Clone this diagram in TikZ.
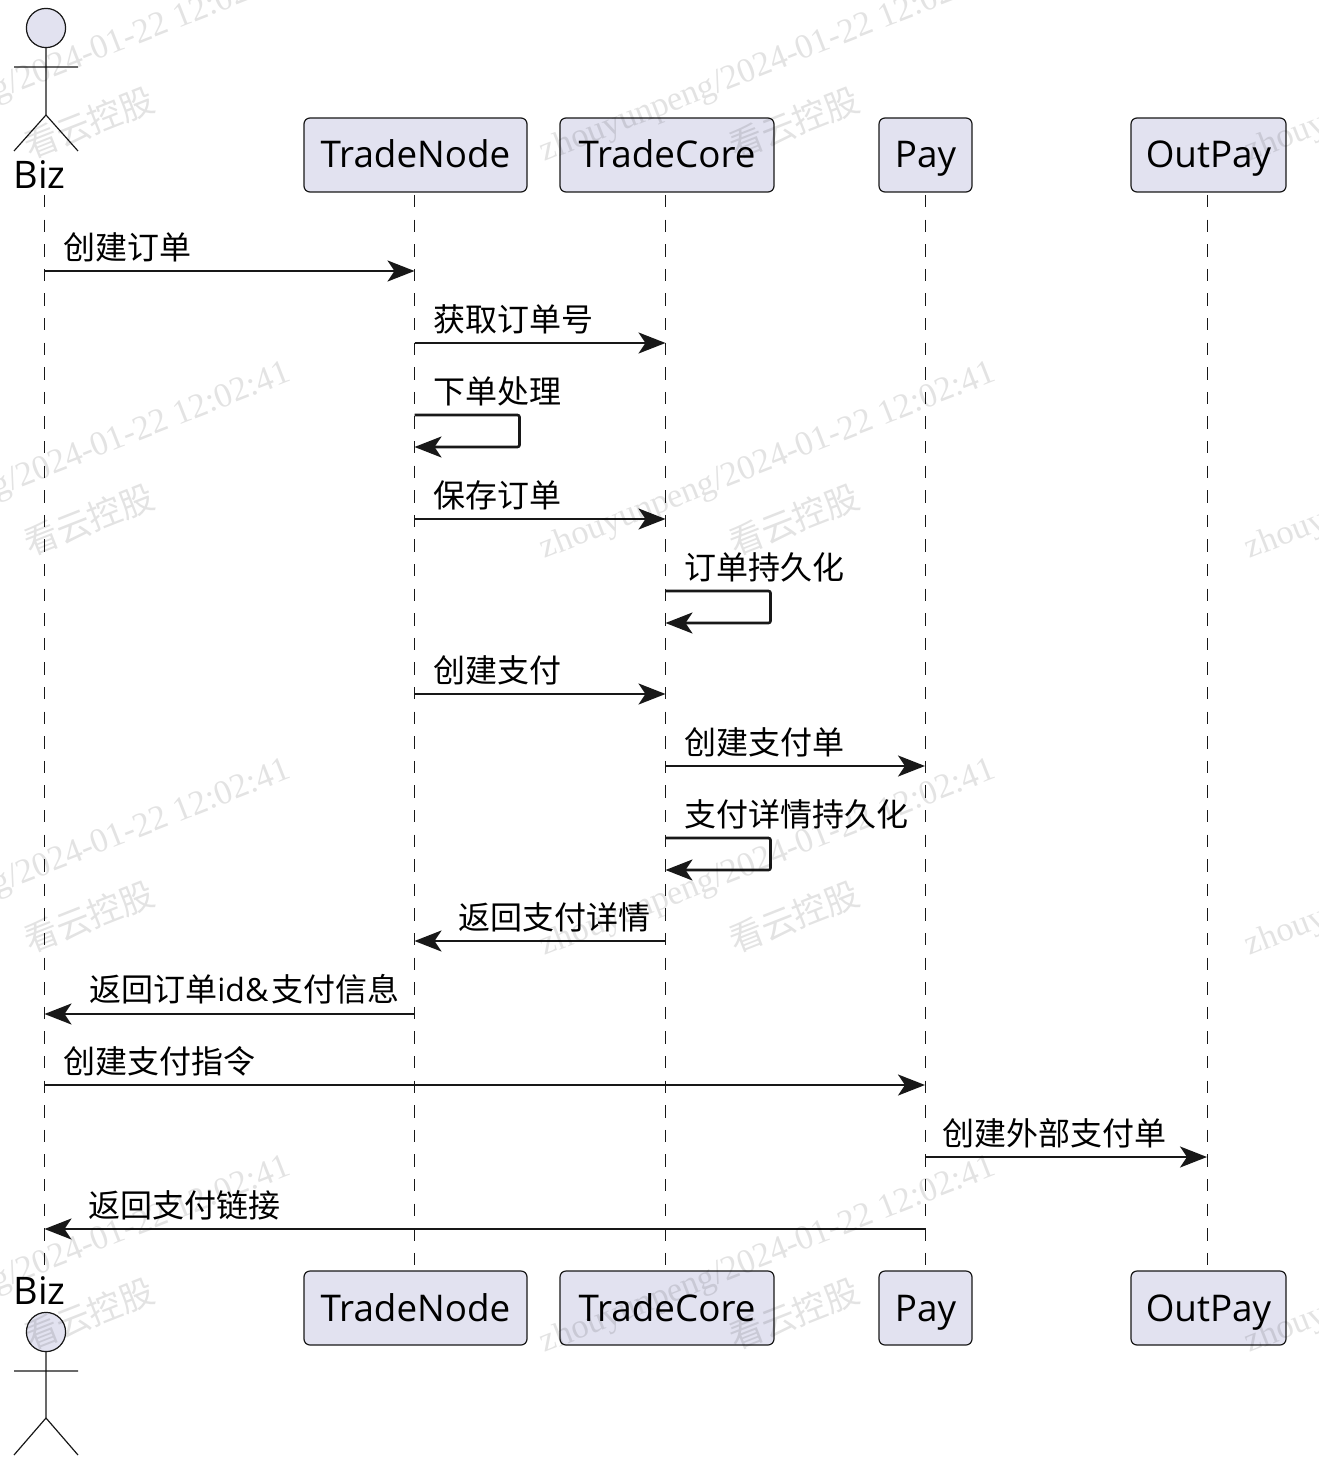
\documentclass[tikz,border=0pt]{standalone}
\usepackage{fontspec}
\setmainfont{Open Sans}
\newfontfamily\cjkfont{Noto Sans CJK SC}
\newfontfamily\markfont{Liberation Serif}
\usetikzlibrary{arrows.meta}

\definecolor{boxfill}{HTML}{E2E2F0}
\definecolor{inkline}{HTML}{181818}

\tikzset{
  part/.style={draw=inkline, line width=0.6pt, fill=boxfill, rounded corners=3pt, minimum height=37pt, inner sep=0pt, text height=17pt, text depth=4pt, font=\fontsize{18.4}{20}\selectfont},
  actorhead/.style={draw=inkline, line width=0.6pt, fill=boxfill, shape=circle, minimum size=19.6pt, inner sep=0pt},
  limb/.style={draw=inkline, line width=0.6pt},
  bizname/.style={anchor=base west, inner sep=0pt, font=\fontsize{19}{20}\selectfont},
  lifeline/.style={draw=inkline, line width=0.5pt, dash pattern=on 6.2pt off 6.1pt},
  msg/.style={draw=inkline, line width=1.3pt, -{Stealth[length=13.5pt,width=10.5pt,inset=3.5pt]}},
  msgtext/.style={anchor=west, inner sep=0pt, font=\cjkfont\fontsize{16}{18}\selectfont},
  wmark/.style={opacity=0.11, inner sep=0pt, rotate=21.5}
}

\begin{document}
\begin{tikzpicture}[x=0.5pt,y=-0.5pt]
\useasboundingbox (0,0) rectangle (1318,1482);

% participants
\node[part, minimum width=111.5pt] (tradenode1) at (415.5,155) {TradeNode};
\node[part, minimum width=107pt] (tradecore1) at (667,155) {TradeCore};
\node[part, minimum width=46.5pt] (pay1) at (925.5,155) {Pay};
\node[part, minimum width=77.5pt] (outpay1) at (1208.5,155) {OutPay};

\node[part, minimum width=111.5pt] (tradenode2) at (415.5,1308) {TradeNode};
\node[part, minimum width=107pt] (tradecore2) at (667,1308) {TradeCore};
\node[part, minimum width=46.5pt] (pay2) at (925.5,1308) {Pay};
\node[part, minimum width=77.5pt] (outpay2) at (1208.5,1308) {OutPay};

% actor on top
\node[actorhead] (head1) at (46,28) {};
\coordinate (hip1) at (46,115);
\coordinate (armL1) at (14,67);
\coordinate (armR1) at (78,67);
\coordinate (footL1) at (14,151);
\coordinate (footR1) at (78,151);
\path[limb] (head1) -- (hip1) (armL1) -- (armR1) (footL1) -- (hip1) -- (footR1);
\node[bizname] (biz1) at (13,189) {Biz};

% actor below
\node[bizname] (biz2) at (13,1304) {Biz};
\node[actorhead] (head2) at (46,1332) {};
\coordinate (hip2) at (46,1418);
\coordinate (armL2) at (14,1371);
\coordinate (armR2) at (78,1371);
\coordinate (footL2) at (14,1455);
\coordinate (footR2) at (78,1455);
\path[limb] (head2) -- (hip2) (armL2) -- (armR2) (footL2) -- (hip2) -- (footR2);

% lifelines
\foreach \who/\x in {biz/44.5,tn/414.5,tc/665.5,py/925,op/1207}{
  \coordinate (\who-top) at (\x,195);
  \coordinate (\who-end) at (\x,1268);
  \path[lifeline] (\who-top) -- (\who-end);
}

% rows of the messages
\foreach \row/\y in {a/271,b/343,c/415,cc/447,d/519,e/591,ee/623,f/694,g/766,h/838,hh/870,i/941,j/1014,k/1085,l/1157,m/1229}
  \coordinate (row\row) at (0,\y);

\path[msg] (biz-top |- rowa) -- (tn-top |- rowa);
\path[msg] (tn-top |- rowb) -- (tc-top |- rowb);
\path[msg,rounded corners=1pt] (tn-top |- rowc) -- ++(105,0) |- (tn-top |- rowcc);
\path[msg] (tn-top |- rowd) -- (tc-top |- rowd);
\path[msg,rounded corners=1pt] (tc-top |- rowe) -- ++(105,0) |- (tc-top |- rowee);
\path[msg] (tn-top |- rowf) -- (tc-top |- rowf);
\path[msg] (tc-top |- rowg) -- (py-top |- rowg);
\path[msg,rounded corners=1pt] (tc-top |- rowh) -- ++(105,0) |- (tc-top |- rowhh);
\path[msg] (tc-top |- rowi) -- (tn-top |- rowi);
\path[msg] (tn-top |- rowj) -- (biz-top |- rowj);
\path[msg] (biz-top |- rowk) -- (py-top |- rowk);
\path[msg] (py-top |- rowl) -- (op-top |- rowl);
\path[msg] (py-top |- rowm) -- (biz-top |- rowm);

% labels
\node[msgtext] (ta) at (63,247) {创建订单};
\node[msgtext] (tb) at (433,319) {获取订单号};
\node[msgtext] (tc) at (433,391) {下单处理};
\node[msgtext] (td) at (433,495) {保存订单};
\node[msgtext] (te) at (684,567) {订单持久化};
\node[msgtext] (tf) at (433,670) {创建支付};
\node[msgtext] (tg) at (684,742) {创建支付单};
\node[msgtext] (th) at (684,814) {支付详情持久化};
\node[msgtext] (ti) at (458,917) {返回支付详情};
\node[msgtext] (tj) at (89,989) {返回订单{\normalfont id\&}\kern1.5pt支付信息};
\node[msgtext] (tk) at (63,1061) {创建支付指令};
\node[msgtext] (tl) at (942,1133) {创建外部支付单};
\node[msgtext] (tm) at (88,1205) {返回支付链接};

% watermark
\foreach \col in {0,705,1410}{
  \foreach \rw in {0,397,794,1191}{
    \node[wmark, font=\markfont\fontsize{17.2}{19}\selectfont] (stamp\col-\rw) at (63+\col,65+\rw) {zhouyunpeng/2024-01-22 12:02:41};
    \node[wmark, font=\cjkfont\fontsize{17}{19}\selectfont] (brand\col-\rw) at (89+\col,123+\rw) {看云控股};
  }
}
\end{tikzpicture}
\end{document}
